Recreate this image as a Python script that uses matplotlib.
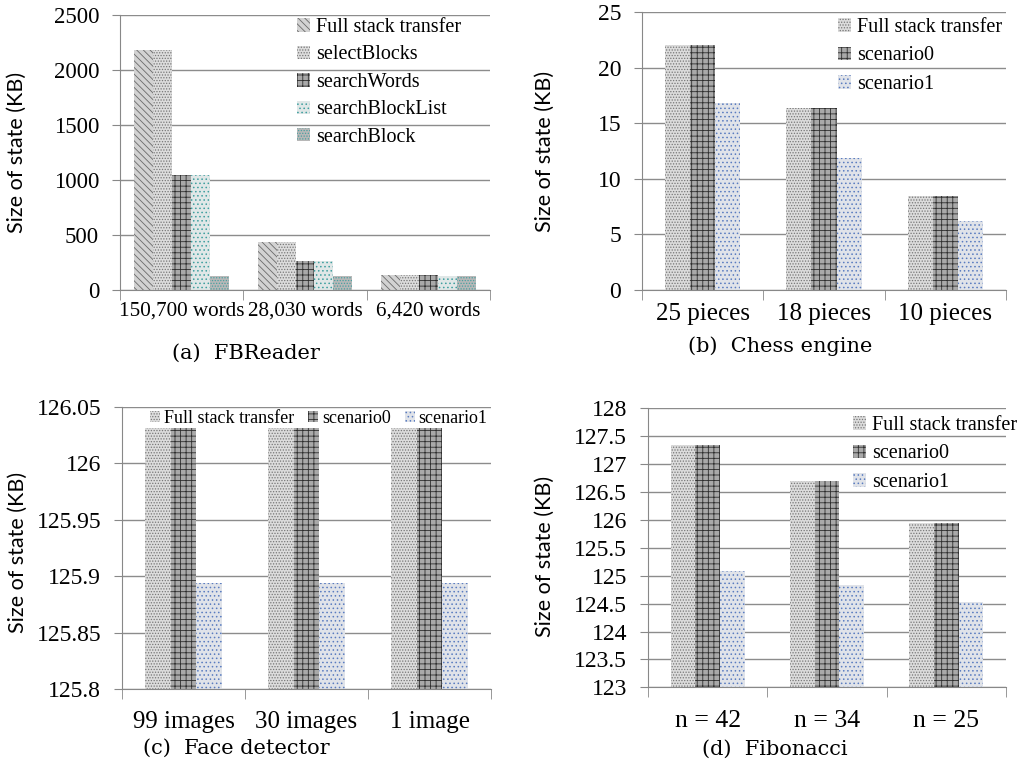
import matplotlib
matplotlib.use("Agg")
import matplotlib.pyplot as plt
import numpy as np

# ---------------- data ----------------
a_cats = ["150,700 words", "28,030 words", "6,420 words"]
a_series = ["Full stack transfer", "selectBlocks", "searchWords", "searchBlockList", "searchBlock"]
a_full = [2178, 433, 133]
a_select = [2178, 433, 133]
a_words = [1050, 266, 135]
a_blocklist = [1045, 261, 127]
a_block = [127, 127, 130]

b_cats = ["25 pieces", "18 pieces", "10 pieces"]
b_full = [22.0, 16.34, 8.43]
b_s0 = [22.0, 16.34, 8.43]
b_s1 = [16.85, 11.9, 6.2]

c_cats = ["99 images", "30 images", "1 image"]
c_full = [126.031, 126.031, 126.031]
c_s0 = [126.031, 126.031, 126.031]
c_s1 = [125.894, 125.894, 125.894]

d_cats = ["n = 42", "n = 34", "n = 25"]
d_full = [127.35, 126.69, 125.95]
d_s0 = [127.35, 126.69, 125.95]
d_s1 = [125.09, 124.84, 124.53]

scen_series = ["Full stack transfer", "scenario0", "scenario1"]

# ---------------- styles ----------------
plt.rcParams["hatch.linewidth"] = 0.6
TICKF = "Liberation Serif"
CAPF = "DejaVu Serif"
LABF = "Lato"

st_diag = dict(facecolor="#d2d2d2", edgecolor="#6a6a6a", hatch="\\\\\\\\\\")
st_dots = dict(facecolor="#dcdcdc", edgecolor="#777777", hatch="......")
st_grid = dict(facecolor="#a9a9a9", edgecolor="#2e2e2e", hatch="+++")
st_blue = dict(facecolor="#e0e3e9", edgecolor="#5a7cc0", hatch="....")
st_teal = dict(facecolor="#e0e7e7", edgecolor="#3f9f9f", hatch="....")
st_tealgray = dict(facecolor="#b8b8b8", edgecolor="#4aa0a0", hatch="......")

fig = plt.figure(figsize=(10.22, 7.64), dpi=100)


def style_axis(ax, ncat, ysize, xsize, xpad):
    ax.set_xlim(-0.5, ncat - 0.5)
    for s in ["top", "right"]:
        ax.spines[s].set_visible(False)
    ax.spines["left"].set_color("#888888")
    ax.spines["bottom"].set_color("#888888")
    ax.yaxis.grid(True, color="#8c8c8c", linewidth=1.0)
    ax.set_axisbelow(True)
    ax.tick_params(axis="y", length=6, color="#888888", labelsize=ysize, pad=9)
    ax.tick_params(axis="x", which="major", length=0, labelsize=xsize, pad=xpad)
    ax.set_xticks(np.arange(-0.5, ncat, 1.0), minor=True)
    ax.tick_params(axis="x", which="minor", length=7, color="#888888")
    for lab in ax.get_xticklabels() + ax.get_yticklabels():
        lab.set_fontfamily(TICKF)


def grouped(ax, cats, values, styles, labels, width):
    n = len(values)
    x = np.arange(len(cats))
    bw = width / n
    for i, (v, stl, lab) in enumerate(zip(values, styles, labels)):
        ax.bar(x - width / 2 + bw * (i + 0.5), v, bw, linewidth=0, label=lab, **stl)
    ax.set_xticks(x)
    ax.set_xticklabels(cats)


def legend(ax, x, y, size, **kw):
    opts = dict(loc="upper left", bbox_to_anchor=(x / 1022, 1 - y / 764),
                bbox_transform=fig.transFigure, frameon=False,
                prop={"family": TICKF, "size": size}, handlelength=0.65, handleheight=0.65,
                handletextpad=0.3, labelspacing=0.45, borderaxespad=0, borderpad=0)
    opts.update(kw)
    ax.legend(**opts)


def ylabel(ax, xright, ycentre, size):
    ax.set_ylabel("Size of state (KB)", fontfamily=LABF, fontsize=size)
    pos = ax.get_position()
    ax.yaxis.set_label_coords((xright / 1022 - pos.x0) / pos.width,
                              ((1 - ycentre / 764) - pos.y0) / pos.height)


# ---------- (a) ----------
axa = fig.add_axes([120 / 1022, 1 - 290 / 764, 370 / 1022, 275 / 764])
grouped(axa, a_cats, [a_full, a_select, a_words, a_blocklist, a_block],
        [st_diag, st_dots, st_grid, st_teal, st_tealgray], a_series, 0.77)
axa.set_ylim(0, 2500)
axa.set_yticks(np.arange(0, 2501, 500))
style_axis(axa, 3, 16.5, 15.2, 8)
legend(axa, 297, 18, 14.5, labelspacing=0.42)
ylabel(axa, 27, 152, 15.5)

# ---------- (b) ----------
axb = fig.add_axes([642 / 1022, 1 - 290 / 764, 364 / 1022, 278 / 764])
grouped(axb, b_cats, [b_full, b_s0, b_s1], [st_dots, st_grid, st_blue], scen_series, 0.62)
axb.set_ylim(0, 25)
axb.set_yticks(np.arange(0, 26, 5))
style_axis(axb, 3, 17, 18, 9)
legend(axb, 838, 18, 14.5, labelspacing=0.47)
ylabel(axb, 555, 151, 15.5)

# ---------- (c) ----------
axc = fig.add_axes([122 / 1022, 1 - 689 / 764, 369 / 1022, 282.3 / 764])
grouped(axc, c_cats, [c_full, c_s0, c_s1], [st_dots, st_grid, st_blue], scen_series, 0.62)
axc.set_ylim(125.8, 126.05)
axc.set_yticks([125.8, 125.85, 125.9, 125.95, 126.0, 126.05])
axc.set_yticklabels(["125.8", "125.85", "125.9", "125.95", "126", "126.05"])
style_axis(axc, 3, 17, 18, 16)
legend(axc, 150, 410, 13, ncol=3, handlelength=0.55, handleheight=0.55,
       handletextpad=0.2, columnspacing=0.8)
ylabel(axc, 28, 552, 15.5)

# ---------- (d) ----------
axd = fig.add_axes([648 / 1022, 1 - 687.3 / 764, 358 / 1022, 279 / 764])
grouped(axd, d_cats, [d_full, d_s0, d_s1], [st_dots, st_grid, st_blue], scen_series, 0.62)
axd.set_ylim(123, 128)
yt = np.arange(123, 128.01, 0.5)
axd.set_yticks(yt)
axd.set_yticklabels([("%g" % v) for v in yt])
style_axis(axd, 3, 17, 18.5, 16)
legend(axd, 853, 416, 14.5, labelspacing=0.47)
ylabel(axd, 555, 556, 15.5)

# ---------- captions ----------
fig.text(246 / 1022, 1 - 353 / 764, "(a)  FBReader", ha="center", va="center", fontfamily=CAPF, fontsize=15)
fig.text(780 / 1022, 1 - 346 / 764, "(b)  Chess engine", ha="center", va="center", fontfamily=CAPF, fontsize=15)
fig.text(236 / 1022, 1 - 748 / 764, "(c)  Face detector", ha="center", va="center", fontfamily=CAPF, fontsize=15)
fig.text(775 / 1022, 1 - 749 / 764, "(d)  Fibonacci", ha="center", va="center", fontfamily=CAPF, fontsize=15)

fig.savefig("out.png", dpi=100, facecolor="white")
